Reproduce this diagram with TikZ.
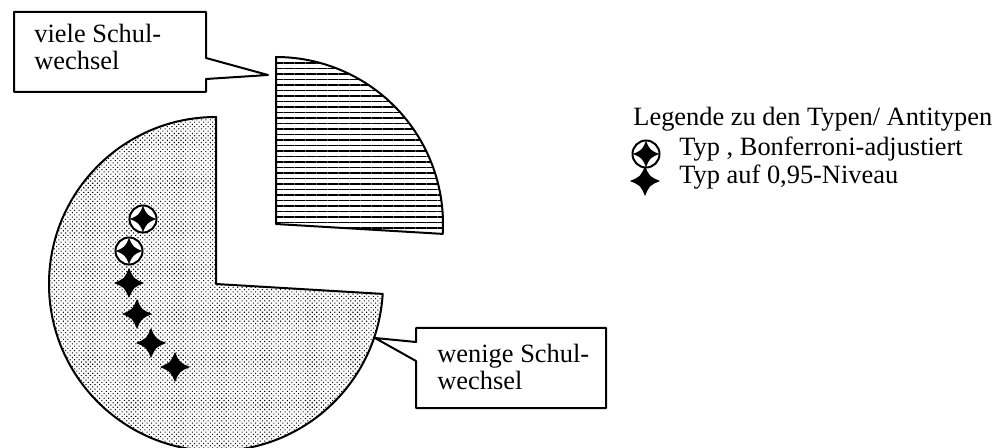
\documentclass[tikz,border=0pt]{standalone}
\usepackage{fontspec}
\setmainfont{Liberation Serif}
\usetikzlibrary{patterns.meta}
\tikzset{
  outline/.style={draw=black, line width=1pt, line join=round},
  callout/.style={outline, fill=white},
  lbl/.style={anchor=base west, inner sep=0pt, font=\fontsize{13.2}{13.5}\selectfont, align=left},
  fstar/.pic={\fill[black] (15,0) .. controls (4.5,4.5) .. (0,15) .. controls (-4.5,4.5) .. (-15,0) .. controls (-4.5,-4.5) .. (0,-15) .. controls (4.5,-4.5) .. cycle;},
  cstar/.pic={\draw[line width=1pt, fill=white] (0,0) circle (13.5);
    \fill[black] (13,0) .. controls (4,4) .. (0,13) .. controls (-4,4) .. (-13,0) .. controls (-4,-4) .. (0,-13) .. controls (4,-4) .. cycle;}
}
\begin{document}
\begin{tikzpicture}[x=0.5pt,y=-0.5pt]
\useasboundingbox (0,0) rectangle (1005,448);
\clip (0,0) rectangle (1005,448);
% big slice
\coordinate (c1) at (216,284);
\path[pattern={Dots[distance=1.6pt, angle=45, radius=0.38pt]}] (c1) -- (216,117) arc[start angle=-90, end angle=-356.6, radius=167] -- cycle;
\draw[outline] (c1) -- (216,117) arc[start angle=-90, end angle=-356.6, radius=167] -- cycle;
% exploded slice
\coordinate (c2) at (276,224);
\path[pattern={Lines[angle=0, distance=2.75pt, line width=0.6pt]}] (c2) -- (276,57) arc[start angle=-90, end angle=3.4, radius=167] -- cycle;
\draw[outline] (c2) -- (276,57) arc[start angle=-90, end angle=3.4, radius=167] -- cycle;
% callout 1
\coordinate (t1) at (268,75);
\draw[callout] (14,12) -- (206,12) -- (206,58) -- (t1) -- (206,79) -- (206,92) -- (14,92) -- cycle;
\node[lbl] (viele) at (34,70) {viele Schul-\\wechsel};
% callout 2
\coordinate (t2) at (375,338);
\draw[callout] (416,328) -- (606,328) -- (606,408) -- (416,408) -- (416,361) -- (t2) -- (416,342) -- cycle;
\node[lbl] (wenige) at (437,389) {wenige Schul-\\wechsel};
% stars in pie
\pic at (143,219) {cstar};
\pic at (129,251) {cstar};
\pic at (129,283) {fstar};
\pic at (137,314) {fstar};
\pic at (151,343) {fstar};
\pic at (175,367) {fstar};
% legend
\node[lbl] (leg) at (633,126) {Legende zu den Typen/ Antitypen};
\pic at (646,154) {cstar};
\node[lbl] (l2) at (679,156) {Typ , Bonferroni-adjustiert};
\pic at (645,181) {fstar};
\node[lbl] (l3) at (679,184) {Typ auf 0,95-Niveau};
\end{tikzpicture}
\end{document}
